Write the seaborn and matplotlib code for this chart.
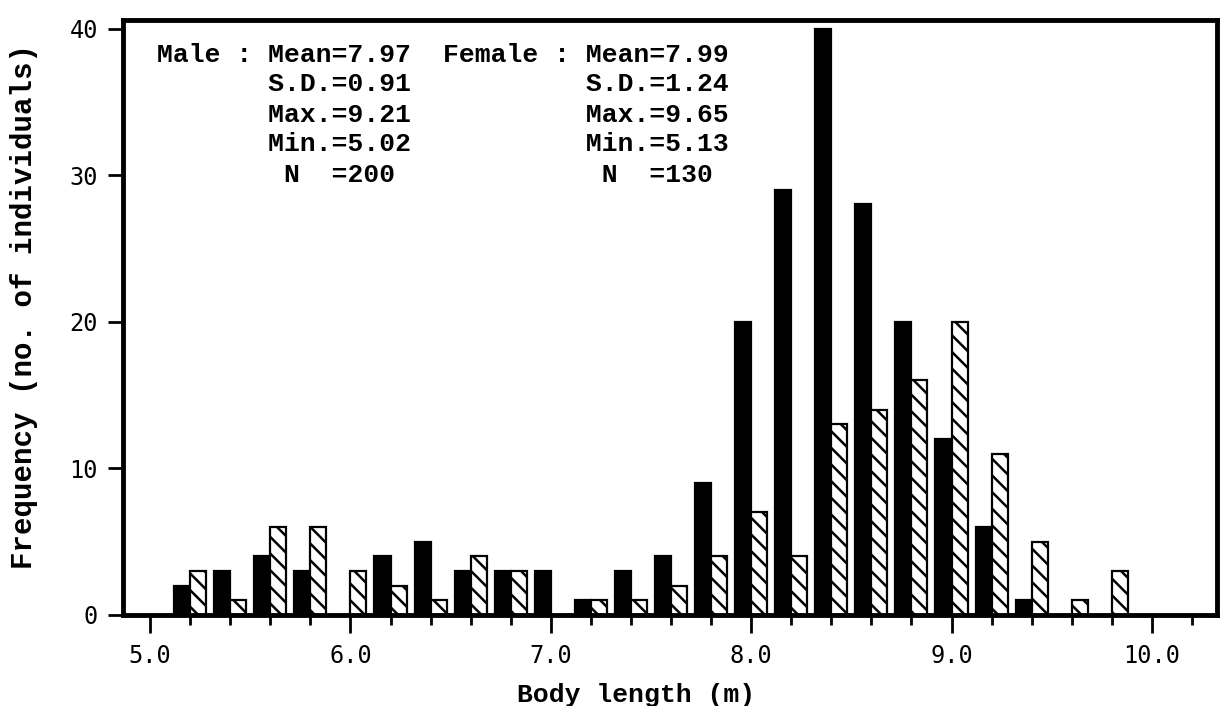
import numpy as np
import pandas as pd
import matplotlib
matplotlib.use("Agg")
import matplotlib.pyplot as plt
from matplotlib.ticker import MultipleLocator, FormatStrFormatter
import seaborn as sns

# body length classes (m), counts per sex
lengths = [5.2, 5.4, 5.6, 5.8, 6.0, 6.2, 6.4, 6.6, 6.8, 7.0, 7.2, 7.4,
           7.6, 7.8, 8.0, 8.2, 8.4, 8.6, 8.8, 9.0, 9.2, 9.4, 9.6, 9.8]
male = [2, 3, 4, 3, 0, 4, 5, 3, 3, 3, 1, 3,
        4, 9, 20, 29, 40, 28, 20, 12, 6, 1, 0, 0]
female = [3, 1, 6, 6, 3, 2, 1, 4, 3, 0, 1, 1,
          2, 4, 7, 4, 13, 14, 16, 20, 11, 5, 1, 3]

male_stats = ["Male : Mean=7.97", "       S.D.=0.91", "       Max.=9.21",
              "       Min.=5.02", "        N  =200"]
female_stats = ["Female : Mean=7.99", "         S.D.=1.24", "         Max.=9.65",
                "         Min.=5.13", "          N  =130"]

df = pd.DataFrame({
    "length": lengths * 2,
    "count": male + female,
    "sex": ["Male"] * len(lengths) + ["Female"] * len(lengths),
})

sns.set_style("white")
plt.rcParams["hatch.linewidth"] = 1.8
plt.rcParams["text.color"] = "black"
plt.rcParams["xtick.color"] = "black"
plt.rcParams["ytick.color"] = "black"
label_font = dict(family="Liberation Mono", weight="bold", size=19, color="black")

fig, ax = plt.subplots(figsize=(12.23, 7.06), dpi=100)
fig.subplots_adjust(left=0.1006, right=0.9951, bottom=0.129, top=0.972)

sns.barplot(data=df, x="length", y="count", hue="sex", hue_order=["Male", "Female"],
            palette={"Male": "black", "Female": "white"}, native_scale=True,
            width=0.8, dodge=True, errorbar=None, legend=False,
            edgecolor="black", linewidth=1.6, ax=ax)

for bar in ax.containers[1]:
    bar.set_hatch("\\\\")

ax.set_xlim(4.865, 10.325)
ax.set_ylim(0, 40.6)

ax.xaxis.set_major_locator(MultipleLocator(1.0))
ax.xaxis.set_minor_locator(MultipleLocator(0.2))
ax.xaxis.set_major_formatter(FormatStrFormatter("%.1f"))
ax.set_yticks([0, 10, 20, 30, 40])

for s in ax.spines.values():
    s.set_linewidth(3.5)
    s.set_color("black")

ax.tick_params(axis="x", which="major", direction="out", length=13, width=2,
               pad=8, bottom=True, colors="black")
ax.tick_params(axis="x", which="minor", direction="out", length=7, width=2,
               bottom=True, colors="black")
ax.tick_params(axis="y", which="major", direction="out", length=11, width=2,
               pad=7, left=True, colors="black")
for lab in ax.get_xticklabels() + ax.get_yticklabels():
    lab.set_family("DejaVu Sans Mono")
    lab.set_fontsize(17)

ax.set_xlabel("Body length (m)", **label_font)
ax.set_ylabel("Frequency (no. of individuals)", family="Liberation Mono",
              weight="bold", size=21, color="black")
ax.xaxis.set_label_coords(0.469, -0.114)
ax.yaxis.set_label_coords(-0.078, 0.518)

rows_y = [38.2, 36.2, 34.1, 32.1, 30.0]
for txt, yy in zip(male_stats, rows_y):
    ax.text(5.035, yy, txt, ha="left", va="center", **label_font)
for txt, yy in zip(female_stats, rows_y):
    ax.text(6.46, yy, txt, ha="left", va="center", **label_font)

fig.savefig("out.png", dpi=100)
